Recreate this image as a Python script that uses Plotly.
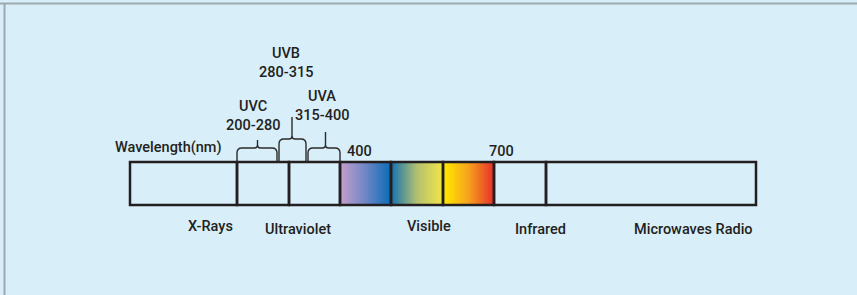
import plotly.graph_objects as go
import numpy as np

# ---------------- data ----------------
band_labels = ["X-Rays", "Ultraviolet", "Visible", "Infrared", "Microwaves Radio"]
uv_names = ["UVC", "UVB", "UVA"]
uv_ranges = ["200-280", "280-315", "315-400"]
marker_values = ["400", "700"]
axis_title = "Wavelength(nm)"
visible_colors = [
    ["#c49fcd", "#6f86c4", "#0a6cb8"],
    ["#1573b2", "#b4c070", "#f3e647"],
    ["#ffeb00", "#f7a21d", "#e6302a"],
]

# ---------------- layout (pixel-unit axes) ----------------
W, H = 857, 295
bar_top, bar_bot = 162, 205
cell_edges = [130, 237, 289, 340, 391, 443, 494, 546, 756]
grad_cells = [3, 4, 5]  # indices of cells filled with gradients
band_label_pos = [(210, 226), (297.5, 229), (428.5, 226.5), (540, 229), (693, 229)]
marker_pos = [(359, 151.5), (501.5, 151.5)]
title_pos = (168.5, 147.5)
uv_text_pos = [(253, 106.5, 125.5), (286, 53, 72), (322, 96, 115)]
brackets = [  # xl, xr, yh, xp, yp
    (237, 277, 148, 257.5, 140),
    (279, 306, 139, 292, 117),
    (308, 340, 148, 325.5, 132),
]
ink = "#231f20"
font = dict(family="Roboto", size=14.5, color=ink, weight=500)

fig = go.Figure()

# gradient cells
for ci, cols in zip(grad_cells, visible_colors):
    x0, x1 = cell_edges[ci], cell_edges[ci + 1]
    n = 120
    xs = np.linspace(x0, x1, n + 1)
    z = [list(np.linspace(0, 1, n))]
    fig.add_trace(go.Heatmap(
        x=xs, y=[bar_top, bar_bot], z=z,
        colorscale=[[0, cols[0]], [0.5, cols[1]], [1, cols[2]]],
        zmin=0, zmax=1, showscale=False, hoverinfo="skip",
    ))

shapes = []
# cell boxes
for i in range(len(cell_edges) - 1):
    shapes.append(dict(type="rect", xref="x", yref="y",
                       x0=cell_edges[i], x1=cell_edges[i + 1], y0=bar_top, y1=bar_bot,
                       line=dict(color=ink, width=2.5), layer="above"))

# brackets
r = 5
for xl, xr, yh, xp, yp in brackets:
    s = 3
    path = (f"M {xl},{bar_top} L {xl},{yh + r} Q {xl},{yh} {xl + r},{yh} "
            f"L {xp - s},{yh} Q {xp},{yh} {xp},{yh - s} L {xp},{yp} "
            f"M {xp},{yh - s} Q {xp},{yh} {xp + s},{yh} "
            f"L {xr - r},{yh} Q {xr},{yh} {xr},{yh + r} L {xr},{bar_top}")
    shapes.append(dict(type="path", xref="x", yref="y", path=path,
                       line=dict(color="#2b2b2b", width=1.4)))

# frame lines (top / left)
shapes.append(dict(type="line", xref="paper", yref="paper", x0=0, x1=1, y0=1 - 3.5 / H, y1=1 - 3.5 / H,
                   line=dict(color="#9ea9af", width=2)))
shapes.append(dict(type="line", xref="paper", yref="paper", x0=4.5 / W, x1=4.5 / W, y0=0, y1=1 - 3.5 / H,
                   line=dict(color="#9ea9af", width=2)))

annotations = []
def txt(t, x, y):
    annotations.append(dict(text=t, x=x, y=y, xref="x", yref="y", showarrow=False,
                            font=font, xanchor="center", yanchor="middle"))

for lab, (x, y) in zip(band_labels, band_label_pos):
    txt(lab, x, y)
for lab, (x, y) in zip(marker_values, marker_pos):
    txt(lab, x, y)
txt(axis_title, *title_pos)
for nm, rg, (x, y1, y2) in zip(uv_names, uv_ranges, uv_text_pos):
    txt(nm, x, y1)
    txt(rg, x, y2)

fig.update_layout(
    width=W, height=H, margin=dict(l=0, r=0, t=0, b=0),
    paper_bgcolor="#d8eef9", plot_bgcolor="rgba(0,0,0,0)",
    xaxis=dict(range=[0, W], visible=False, fixedrange=True),
    yaxis=dict(range=[H, 0], visible=False, fixedrange=True),
    shapes=shapes, annotations=annotations, showlegend=False,
)

fig.write_html(
    "out.html",
    config={"displayModeBar": False},
    post_script="document.body.style.margin='0';document.body.style.overflow='hidden';"
                "document.body.style.background='#d8eef9';",
)
